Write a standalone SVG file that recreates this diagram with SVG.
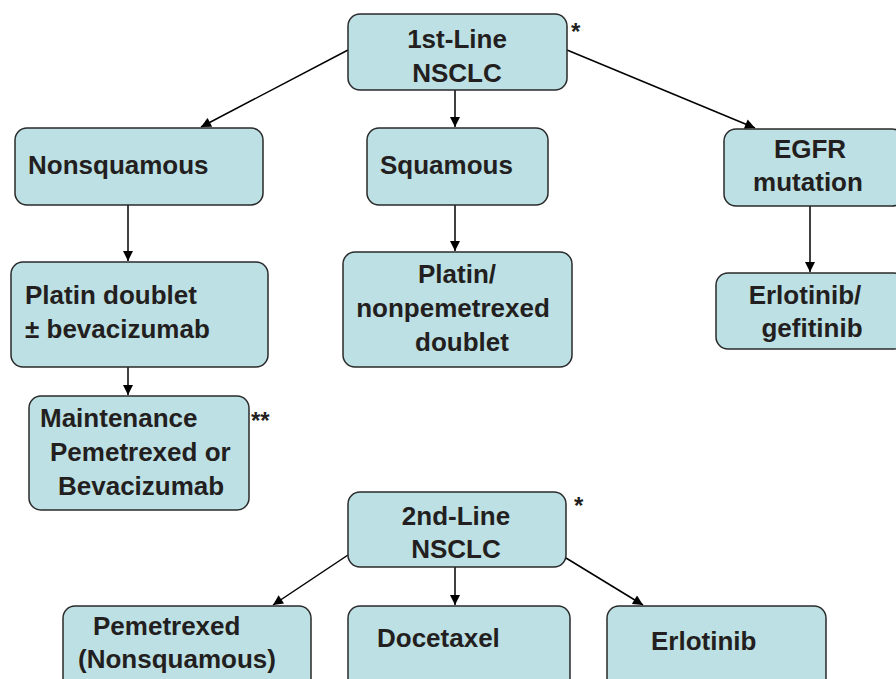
<svg xmlns="http://www.w3.org/2000/svg" width="896" height="679" viewBox="0 0 896 679">
<defs>
<marker id="ah" viewBox="0 0 10 10" refX="10" refY="5" markerWidth="11" markerHeight="10" markerUnits="userSpaceOnUse" orient="auto">
<path d="M0,0 L10,5 L0,10 z" fill="#000"/>
</marker>
<style>
.box{fill:#bde0e4;stroke:#2a2a2a;stroke-width:1.5}
.t{font-family:"Liberation Sans",Arial,sans-serif;font-weight:bold;font-size:26px;fill:#231f20}
.c{text-anchor:middle}
.star{font-family:"Liberation Sans",Arial,sans-serif;font-weight:bold;font-size:24px;fill:#231f20}
.ln{stroke:#000;stroke-width:1.5;fill:none;marker-end:url(#ah)}
</style>
</defs>
<rect width="896" height="679" fill="#fff"/>
<g id="connectors">
<line class="ln" x1="348" y1="50" x2="201" y2="127"/>
<line class="ln" x1="455" y1="90" x2="455" y2="127"/>
<line class="ln" x1="567" y1="50" x2="755" y2="128"/>
<line class="ln" x1="128" y1="205" x2="128" y2="261"/>
<line class="ln" x1="455" y1="205" x2="455" y2="251"/>
<line class="ln" x1="810" y1="206" x2="810" y2="272"/>
<line class="ln" x1="128" y1="367" x2="128" y2="395"/>
<line class="ln" x1="348" y1="555" x2="273" y2="605"/>
<line class="ln" x1="455" y1="567" x2="455" y2="605"/>
<line class="ln" x1="566" y1="558" x2="643" y2="605"/>
</g>
<g id="first-line">
<rect class="box" x="348" y="14" width="219" height="76" rx="12"/>
<text class="t c" x="457" y="48">1st-Line</text>
<text class="t c" x="457" y="82">NSCLC</text>
<text class="star" x="571" y="40">*</text>
</g>
<g id="nonsquamous">
<rect class="box" x="15" y="128" width="248" height="77" rx="12"/>
<text class="t" x="28" y="174">Nonsquamous</text>
</g>
<g id="squamous">
<rect class="box" x="367" y="128" width="181" height="77" rx="12"/>
<text class="t" x="380" y="174">Squamous</text>
</g>
<g id="egfr">
<rect class="box" x="724" y="129" width="180" height="77" rx="12"/>
<text class="t c" x="810" y="158">EGFR</text>
<text class="t c" x="808" y="191">mutation</text>
</g>
<g id="platin-doublet">
<rect class="box" x="11" y="262" width="257" height="105" rx="12"/>
<text class="t" x="25" y="304">Platin doublet</text>
<text class="t" x="25" y="338">± bevacizumab</text>
</g>
<g id="platin-nonpem">
<rect class="box" x="343" y="252" width="229" height="115" rx="12"/>
<text class="t c" x="457" y="283">Platin/</text>
<text class="t c" x="453" y="317">nonpemetrexed</text>
<text class="t c" x="462" y="351">doublet</text>
</g>
<g id="erlotinib-gefitinib">
<rect class="box" x="716" y="273" width="190" height="76" rx="12"/>
<text class="t c" x="805" y="304">Erlotinib/</text>
<text class="t c" x="812" y="337">gefitinib</text>
</g>
<g id="maintenance">
<rect class="box" x="29" y="396" width="220" height="114" rx="12"/>
<text class="t" x="40" y="427">Maintenance</text>
<text class="t" x="50" y="461">Pemetrexed or</text>
<text class="t" x="58" y="495">Bevacizumab</text>
<text class="star" x="251" y="429">**</text>
</g>
<g id="second-line">
<rect class="box" x="348" y="492" width="218" height="75" rx="12"/>
<text class="t c" x="456" y="525">2nd-Line</text>
<text class="t c" x="456" y="558">NSCLC</text>
<text class="star" x="574" y="514">*</text>
</g>
<g id="pemetrexed">
<rect class="box" x="63" y="606" width="248" height="90" rx="12"/>
<text class="t" x="93" y="635">Pemetrexed</text>
<text class="t" x="78" y="668">(Nonsquamous)</text>
</g>
<g id="docetaxel">
<rect class="box" x="348" y="606" width="222" height="90" rx="12"/>
<text class="t" x="377" y="647">Docetaxel</text>
</g>
<g id="erlotinib">
<rect class="box" x="607" y="606" width="219" height="90" rx="12"/>
<text class="t" x="651" y="650">Erlotinib</text>
</g>
</svg>
